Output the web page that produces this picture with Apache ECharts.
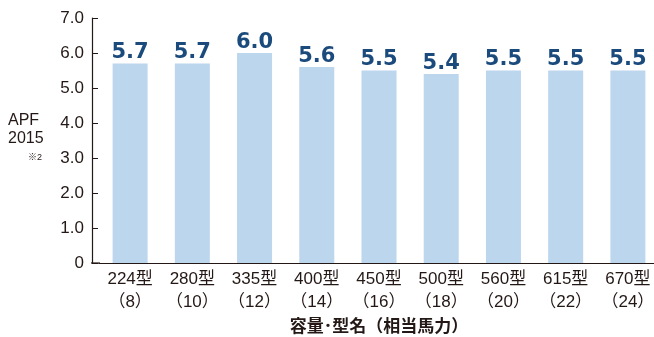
<!DOCTYPE html>
<html>
<head>
<meta charset="utf-8">
<script src="https://cdn.jsdelivr.net/npm/echarts@6/dist/echarts.min.js"></script>
<style>
  html, body { margin: 0; padding: 0; background: #fff; }
  #chart { width: 654px; height: 337px; }
</style>
</head>
<body>
<div id="chart"></div>
<script>
// Model capacity classes and equivalent horsepower
const models = ['224型', '280型', '335型', '400型', '450型', '500型', '560型', '615型', '670型'];
const horsepower = ['8', '10', '12', '14', '16', '18', '20', '22', '24'];
// APF 2015 values per model
const apf = [5.7, 5.7, 6.0, 5.6, 5.5, 5.4, 5.5, 5.5, 5.5];
// Y axis scale
const yMin = 0, yMax = 7, yStep = 1;

const FONT = '"Liberation Sans", Arial, "Noto Sans CJK JP", sans-serif';
const VALUE_FONT = '"DejaVu Sans", "Liberation Sans", sans-serif';
const TEXT = '#231815';

const categories = models.map((m, i) => m + '\n（' + horsepower[i] + '）');

const chart = echarts.init(document.getElementById('chart'));
chart.setOption({
  animation: false,
  textStyle: { fontFamily: FONT },
  grid: { left: 99, right: -5, top: 18, bottom: 74, containLabel: false, outerBoundsMode: 'none' },
  xAxis: {
    type: 'category',
    data: categories,
    axisLine: { lineStyle: { color: TEXT, width: 1.2 } },
    axisTick: { inside: true, length: 6, lineStyle: { color: TEXT } },
    axisLabel: {
      interval: 0,
      color: TEXT, fontSize: 17, lineHeight: 23, margin: 5, fontFamily: FONT
    },
    name: '容量･型名（相当馬力）',
    nameLocation: 'middle',
    nameGap: 53,
    nameTextStyle: { color: TEXT, fontSize: 17, fontWeight: 'bold', fontFamily: FONT }
  },
  yAxis: {
    type: 'value',
    min: yMin, max: yMax, interval: yStep,
    offset: 7,
    axisLine: { show: true, lineStyle: { color: TEXT, width: 1.2 } },
    axisTick: { show: true, inside: true, length: 6, lineStyle: { color: TEXT } },
    splitLine: { show: false },
    axisLabel: {
      color: TEXT, fontSize: 17, margin: 8, fontFamily: FONT,
      formatter: v => v === 0 ? '0' : v.toFixed(1)
    }
  },
  series: [{
    type: 'bar',
    data: apf,
    barWidth: 35,
    itemStyle: { color: '#bcd6ee' },
    label: {
      show: true, position: 'top', distance: 0,
      color: '#1b4b7c', fontSize: 21, fontWeight: 'bold', fontFamily: VALUE_FONT,
      formatter: p => p.value.toFixed(1)
    }
  }]
});

// Axis title on the left and the x-axis line extended back to the y-axis line
const bottomY = chart.convertToPixel({ yAxisIndex: 0 }, yMin);
chart.setOption({
  graphic: [
    {
      type: 'line', silent: true,
      shape: { x1: 91, y1: bottomY, x2: 100, y2: bottomY },
      style: { stroke: TEXT, lineWidth: 1.2 }
    },
    {
      type: 'text', x: 8, y: 121,
      style: { text: 'APF', fill: TEXT, font: '16px ' + FONT, verticalAlign: 'middle' }
    },
    {
      type: 'text', x: 8, y: 139,
      style: { text: '2015', fill: TEXT, font: '16px ' + FONT, verticalAlign: 'middle' }
    },
    {
      type: 'text', x: 28, y: 158,
      style: { text: '※2', fill: TEXT, font: '9px ' + FONT, verticalAlign: 'middle' }
    }
  ]
});
</script>
</body>
</html>
